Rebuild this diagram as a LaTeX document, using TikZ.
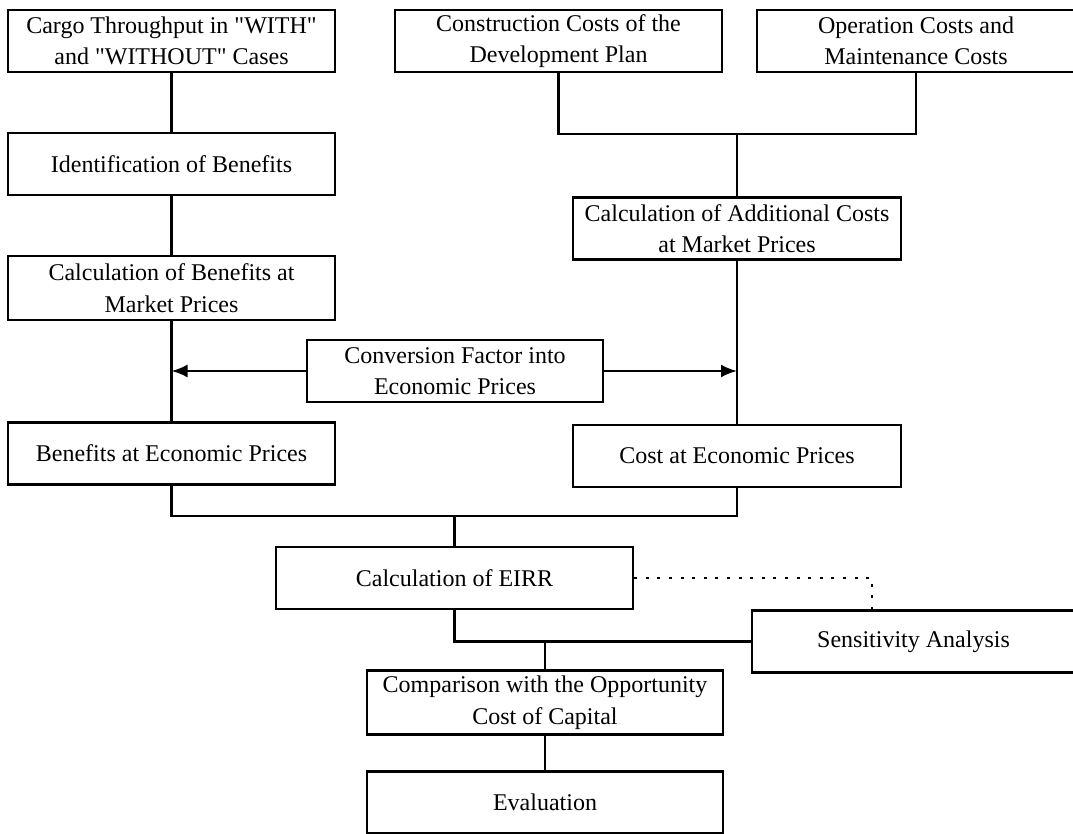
\documentclass[tikz,border=0pt]{standalone}
\usepackage{fontspec}
\setmainfont{Liberation Serif}
\usetikzlibrary{arrows.meta,positioning}

\begin{document}
\begin{tikzpicture}[x=0.5pt,y=-0.5pt]
\tikzstyle{every node}+=[inner sep=0pt]
\tikzstyle{stage}=[draw=black, line width=1.2pt, align=center, minimum height=31pt, font=\fontsize{12}{15.75}\selectfont]
\tikzstyle{link}=[black, line width=1.2pt]
\useasboundingbox (0,0) rectangle (1073,834);
\node [stage, minimum width=163.5pt] (cargo) at (171.5,41) {Cargo Throughput in \textquotedbl WITH\textquotedbl\\and \textquotedbl WITHOUT\textquotedbl{} Cases};
\node [stage, minimum width=163.5pt] (constr) at (558.5,41) {Construction Costs of the\\Development Plan};
\node [stage, minimum width=159pt] (oper) at (916,41) {Operation Costs and\\Maintenance Costs};
\node [stage, minimum width=163.5pt] (ident) at (171.5,164) {Identification of Benefits};
\node [stage, minimum width=164pt] (addcost) at (737,228.5) {Calculation of Additional Costs\\at Market Prices};
\node [stage, minimum width=163.5pt, minimum height=32pt] (benmkt) at (171.5,288) {Calculation of Benefits at\\Market Prices};
\node [stage, minimum width=148pt] (factor) at (455,371) {Conversion Factor into\\Economic Prices};
\node [stage, minimum width=163.5pt] (beneco) at (171.5,453.5) {Benefits at Economic Prices};
\node [stage, minimum width=164pt] (costeco) at (737,456) {Cost at Economic Prices};
\node [stage, minimum width=178.5pt] (eirr) at (454.5,578) {Calculation of EIRR};
\node [stage, minimum width=161.5pt] (sens) at (913.5,641.5) {Sensitivity Analysis};
\node [stage, minimum width=178pt, minimum height=32pt] (compare) at (545,702.5) {Comparison with the Opportunity\\Cost of Capital};
\node [stage, minimum width=178pt] (eval) at (545,802.5) {Evaluation};
\coordinate (costjoin) at (737,134);
\coordinate (ecojoin) at (454.5,516);
\coordinate (sensdot) at (872,610);
\draw [link] (cargo) -- (ident);
\draw [link] (ident) -- (benmkt);
\draw [link] (benmkt) -- (beneco);
\draw [link] (constr.south) |- (costjoin) -| (oper.south);
\draw [link] (costjoin) -- (addcost);
\draw [link] (addcost) -- (costeco);
\draw [link, -{Latex[length=8pt,width=6.5pt]}] (factor.west) -- (factor.west -| benmkt.south);
\draw [link, -{Latex[length=8pt,width=6.5pt]}] (factor.east) -- (factor.east -| addcost.south);
\draw [link] (beneco.south) |- (ecojoin) -| (costeco.south);
\draw [link] (ecojoin) -- (eirr);
\draw [link] (eirr.south) |- (sens.west);
\draw [link] (compare.north) -- (compare.north |- sens.west);
\draw [link] (compare) -- (eval);
\draw [link, dash pattern=on 1.5pt off 4.3pt] (eirr.east) -| (sensdot);
\end{tikzpicture}
\end{document}
